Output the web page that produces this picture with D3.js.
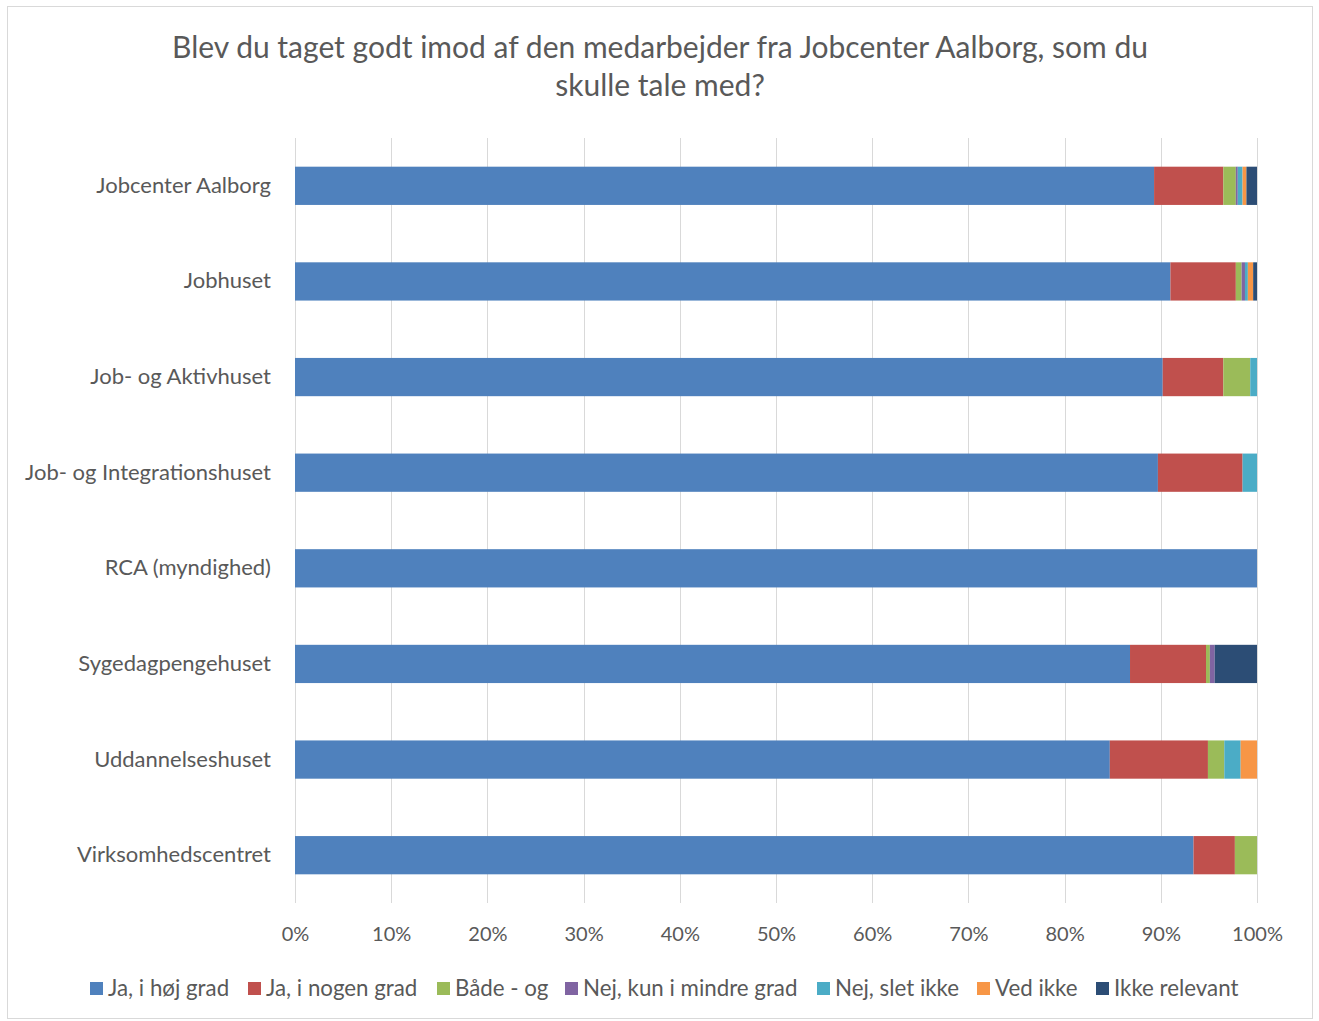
<!DOCTYPE html>
<html lang="da">
<head>
<meta charset="utf-8">
<title>Blev du taget godt imod</title>
<script src="https://cdn.jsdelivr.net/npm/d3@7"></script>
<style>
body { margin: 0; background: #fff; }
text { font-family: Lato, "Open Sans", sans-serif; fill: #595959; }
</style>
</head>
<body>
<script>
// data
var categories = ["Jobcenter Aalborg", "Jobhuset", "Job- og Aktivhuset", "Job- og Integrationshuset",
  "RCA (myndighed)", "Sygedagpengehuset", "Uddannelseshuset", "Virksomhedscentret"];
var seriesNames = ["Ja, i høj grad", "Ja, i nogen grad", "Både - og", "Nej, kun i mindre grad",
  "Nej, slet ikke", "Ved ikke", "Ikke relevant"];
var seriesColors = ["#4F81BD", "#C0504D", "#9BBB59", "#8064A2", "#4BACC6", "#F79646", "#2C4D75"];
// one array per series, in category order (percent)
var hoejGrad    = [89.3, 91.0, 90.2, 89.7, 100, 86.8, 84.7, 93.4];
var nogenGrad   = [7.2, 6.8, 6.3, 8.8, 0, 7.9, 10.2, 4.3];
var baadeOg     = [1.3, 0.6, 2.8, 0, 0, 0.4, 1.7, 2.3];
var mindreGrad  = [0.2, 0.35, 0, 0, 0, 0.5, 0, 0];
var sletIkke    = [0.5, 0.3, 0.7, 1.5, 0, 0, 1.7, 0];
var vedIkke     = [0.4, 0.55, 0, 0, 0, 0, 1.7, 0];
var ikkeRelevant= [1.1, 0.4, 0, 0, 0, 4.4, 0, 0];
var xTicks = [0, 10, 20, 30, 40, 50, 60, 70, 80, 90, 100];

var allSeries = [hoejGrad, nogenGrad, baadeOg, mindreGrad, sletIkke, vedIkke, ikkeRelevant];
var rows = categories.map(function(c, i) {
  var r = {cat: c};
  seriesNames.forEach(function(s, j) { r[s] = allSeries[j][i]; });
  return r;
});

var w = 1319, h = 1021;
var svg = d3.select("body").append("svg").attr("width", w).attr("height", h);

// outer border
svg.append("rect").attr("x", 7.5).attr("y", 6.5).attr("width", 1305).attr("height", 1012)
  .attr("fill", "#fff").attr("stroke", "#d9d9d9").attr("stroke-width", 1);

// title
var title = svg.append("text").attr("text-anchor", "middle").attr("font-size", "30px");
title.append("tspan").attr("x", 660).attr("y", 58)
  .text("Blev du taget godt imod af den medarbejder fra Jobcenter Aalborg, som du");
title.append("tspan").attr("x", 660).attr("y", 96).text("skulle tale med?");

var plotLeft = 295, plotRight = 1257, plotTop = 138, plotBottom = 903;
var x = d3.scaleLinear().domain([0, 100]).range([plotLeft, plotRight]);
var y = d3.scaleBand().domain(categories).range([plotTop, plotBottom]).paddingInner(0.6).paddingOuter(0.3);

// gridlines
svg.append("g").selectAll("line").data(xTicks).enter().append("line")
  .attr("x1", function(d) { return Math.round(x(d)) + 0.5; })
  .attr("x2", function(d) { return Math.round(x(d)) + 0.5; })
  .attr("y1", plotTop).attr("y2", plotBottom)
  .attr("stroke", "#d9d9d9").attr("stroke-width", 1);

// stacked bars
var stack = d3.stack().keys(seriesNames);
var layers = stack(rows);
svg.append("g").selectAll("g").data(layers).enter().append("g")
  .attr("fill", function(d, i) { return seriesColors[i]; })
  .selectAll("rect").data(function(d) { return d; }).enter().append("rect")
  .attr("x", function(d) { return x(d[0]); })
  .attr("y", function(d) { return y(d.data.cat); })
  .attr("width", function(d) { return x(d[1]) - x(d[0]); })
  .attr("height", y.bandwidth());

// x axis labels
var xAxis = d3.axisBottom(x).tickValues(xTicks).tickSize(0).tickPadding(0)
  .tickFormat(function(d) { return d + "%"; });
var gx = svg.append("g").attr("transform", "translate(0," + 927 + ")").call(xAxis);
gx.select(".domain").remove();
gx.selectAll("text").attr("font-size", "20px").attr("fill", "#595959")
  .style("font-family", "Lato, 'Open Sans', sans-serif");

// y axis labels
var yAxis = d3.axisLeft(y).tickSize(0).tickPadding(0);
var gy = svg.append("g").attr("transform", "translate(271,0)").call(yAxis);
gy.select(".domain").remove();
gy.selectAll("text").attr("font-size", "22px").attr("fill", "#595959")
  .style("font-family", "Lato, 'Open Sans', sans-serif");

// legend
var legendX = [90, 248, 437, 565, 817, 977, 1096];
var legend = svg.append("g").selectAll("g").data(seriesNames).enter().append("g")
  .attr("transform", function(d, i) { return "translate(" + legendX[i] + ",982)"; });
legend.append("rect").attr("width", 13).attr("height", 13)
  .attr("fill", function(d, i) { return seriesColors[i]; });
legend.append("text").attr("x", 18).attr("y", 14).attr("font-size", "22.3px")
  .text(function(d) { return d; });
</script>
</body>
</html>
